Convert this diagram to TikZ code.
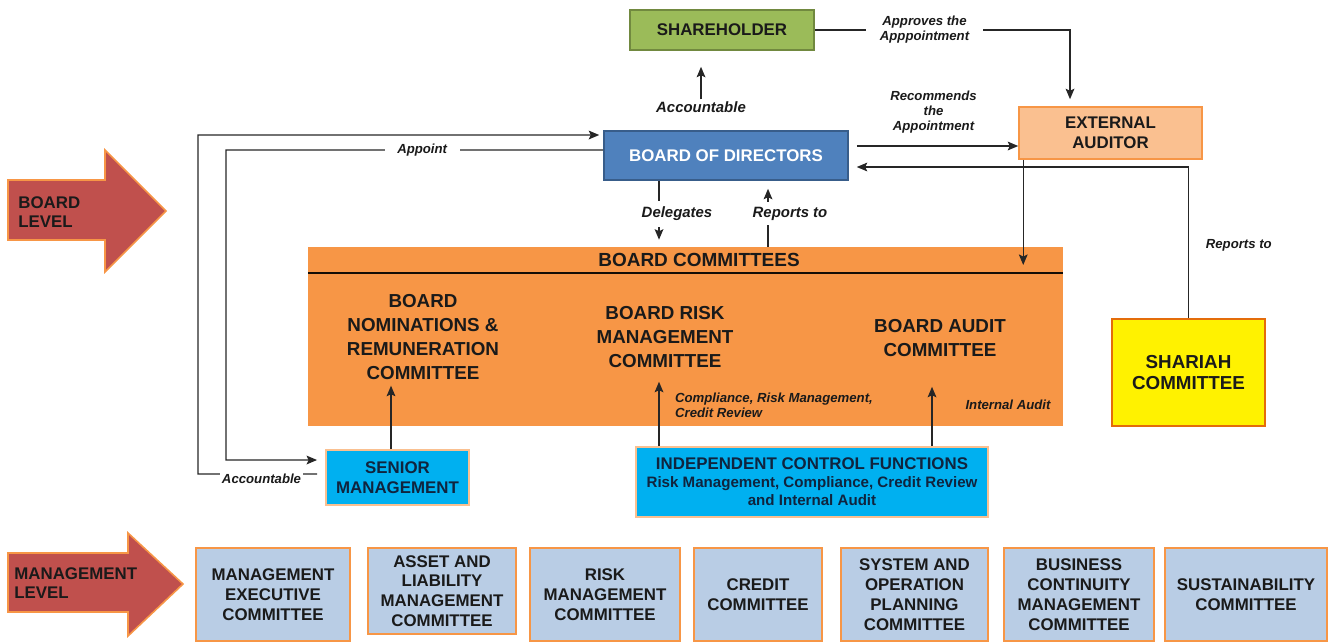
\documentclass[tikz,border=0pt]{standalone}
\usepackage{fontspec}
\setmainfont{Liberation Sans}
\usetikzlibrary{positioning,arrows.meta}

\definecolor{shgreen}{HTML}{9BBB59}
\definecolor{shgreenD}{HTML}{71893F}
\definecolor{bodblue}{HTML}{4F81BD}
\definecolor{bodblueD}{HTML}{385D8A}
\definecolor{lightorange}{HTML}{FAC090}
\definecolor{midorange}{HTML}{F79646}
\definecolor{darkorange}{HTML}{E46C0A}
\definecolor{icfcyan}{HTML}{00B0F0}
\definecolor{mgmtblue}{HTML}{B9CDE5}
\definecolor{levelred}{HTML}{C0504D}
\definecolor{txtdark}{HTML}{1A1A1A}
\definecolor{txtnavy}{HTML}{10243E}

\tikzset{
  box/.style={draw, line width=0.9pt, align=center, inner sep=1pt, text=txtdark,
    font=\bfseries\fontsize{9.6}{11.3}\selectfont},
  mgmt/.style={box, fill=mgmtblue, draw=midorange, line width=1.1pt,
    minimum height=1.86cm},
  comtext/.style={align=center, text=txtdark, font=\bfseries\fontsize{10.7}{13.6}\selectfont},
  lblbig/.style={text=txtdark, inner sep=1pt, font=\bfseries\itshape\fontsize{8.5}{9.5}\selectfont},
  lblsm/.style={text=txtdark, inner sep=1pt, align=center, font=\bfseries\itshape\fontsize{7.5}{8.6}\selectfont},
  conn/.style={draw=black!85, line width=0.7pt, -{Stealth[length=6pt,width=5pt,inset=1.2pt]}},
  levelarrow/.style={fill=levelred, draw=midorange, line width=0.9pt, line join=miter},
  leveltext/.style={align=left, text=txtdark, inner sep=0pt,
    font=\bfseries\fontsize{9.6}{11}\selectfont}
}

\begin{document}
\begin{tikzpicture}[x=0.02cm, y=-0.02cm]
\useasboundingbox (0,0) rectangle (1334,643);

% level arrows
\draw[levelarrow] (8,180) -- (105,180) -- (105,150) -- (166,211) -- (105,272) -- (105,240) -- (8,240) -- cycle;
\node[leveltext, anchor=west] (blevel) at (18,212) {BOARD\\LEVEL};
\draw[levelarrow] (8,553) -- (128,553) -- (128,533) -- (183,584) -- (128,636) -- (128,612) -- (8,612) -- cycle;
\node[leveltext, anchor=west] (mlevel) at (14,583) {MANAGEMENT\\LEVEL};

% board level
\node[box, fill=shgreen, draw=shgreenD, minimum width=3.68cm, minimum height=0.80cm] (sh) at (722,30) {SHAREHOLDER};
\node[box, fill=bodblue, draw=bodblueD, text=white, minimum width=4.88cm, minimum height=0.98cm] (bod) at (726,155.5) {BOARD OF DIRECTORS};
\node[box, fill=lightorange, draw=midorange, minimum width=3.66cm, minimum height=1.04cm] (ea) at (1110.5,133) {EXTERNAL\\AUDITOR};
\node[box, fill=yellow, draw=darkorange, line width=1.4pt, minimum width=3.06cm, minimum height=2.14cm,
  font=\bfseries\fontsize{10.7}{12.5}\selectfont] (shariah) at (1188.5,372.5) {SHARIAH\\COMMITTEE};

% board committees
\node[fill=midorange, minimum width=15.10cm, minimum height=3.58cm, inner sep=0pt] (bc) at (685.5,336.5) {};
\coordinate (hdr) at (308,273);
\draw[line width=1.4pt, draw=black!90!brown] (hdr) -- (hdr -| bc.east);
\node[comtext, font=\bfseries\fontsize{10.8}{12}\selectfont] (bchead) at (699,260) {BOARD COMMITTEES};
\node[comtext] (nom) at (423,337) {BOARD\\NOMINATIONS \&\\REMUNERATION\\COMMITTEE};
\node[comtext] (risk) at (665,337) {BOARD RISK\\MANAGEMENT\\COMMITTEE};
\node[comtext] (audit) at (940,338) {BOARD AUDIT\\COMMITTEE};
\node[lblsm, align=left, anchor=west] (crlbl) at (673,405) {Compliance, Risk Management,\\Credit Review};
\node[lblsm] (ialbl) at (1008,405) {Internal Audit};

% control functions
\node[box, fill=icfcyan, draw=lightorange, line width=1.1pt, text=txtnavy, minimum width=2.86cm, minimum height=1.10cm] (sm) at (397.5,477.5) {SENIOR\\MANAGEMENT};
\node[box, fill=icfcyan, draw=lightorange, line width=1.1pt, text=txtnavy, minimum width=7.04cm, minimum height=1.40cm,
  font=\bfseries\fontsize{8.6}{10.2}\selectfont] (icf) at (812,482)
  {{\fontsize{9.6}{10.2}\selectfont INDEPENDENT CONTROL FUNCTIONS}\\Risk Management, Compliance, Credit Review\\and Internal Audit};

% management level
\node[mgmt, minimum width=3.08cm] (mec) at (273,594.5) {MANAGEMENT\\EXECUTIVE\\COMMITTEE};
\node[mgmt, minimum width=2.96cm, minimum height=1.72cm] (alm) at (442,591) {ASSET AND\\LIABILITY\\MANAGEMENT\\COMMITTEE};
\node[mgmt, minimum width=3.00cm] (rmc) at (605,594.5) {RISK\\MANAGEMENT\\COMMITTEE};
\node[mgmt, minimum width=2.56cm] (cred) at (758,594.5) {CREDIT\\COMMITTEE};
\node[mgmt, minimum width=2.94cm] (sop) at (914.5,594.5) {SYSTEM AND\\OPERATION\\PLANNING\\COMMITTEE};
\node[mgmt, minimum width=3.00cm] (bcm) at (1079,594.5) {BUSINESS\\CONTINUITY\\MANAGEMENT\\COMMITTEE};
\node[mgmt, minimum width=3.24cm] (sus) at (1246,594.5) {SUSTAINABILITY\\COMMITTEE};

% Connect nodes
\node[lblbig] (acc) at (701,107) {Accountable};
\draw[conn, shorten >=0.32cm] (acc.north) -- (acc.north |- sh.south);

\coordinate (apR) at (1070,30);
\draw[conn, shorten >=0.14cm] (sh.east) -- node[lblsm, fill=white, pos=0.43, inner xsep=0.28cm] {Approves the\\Apppointment} (apR) -- (ea.north -| apR);

\draw[conn, shorten <=0.16cm] ([yshift=0.19cm]bod.east) -- node[lblsm, above=0.2cm] {Recommends\\the\\Appointment} ([yshift=0.19cm]bod.east -| ea.west);

\draw[conn, shorten >=0.16cm] (shariah.north) |- node[lblsm, pos=0.24, right=0.3cm] {Reports to} ([yshift=-0.23cm]bod.east);

\draw[conn, shorten >=0.16cm] ([xshift=0.1cm]ea.south west) -- ([xshift=0.1cm]ea.south west |- hdr);

\draw[conn, shorten >=0.14cm] (bod.south -| 659,0) -- node[lblbig, fill=white, xshift=0.36cm, inner ysep=0.12cm] {Delegates} (bc.north -| 659,0);
\draw[conn, shorten >=0.16cm] (bc.north -| 768,0) -- node[lblbig, fill=white, xshift=0.44cm, inner ysep=0.1cm] {Reports to} (bod.south -| 768,0);

\coordinate (apL) at (226,150);
\draw[conn, shorten >=0.16cm] ([yshift=0.11cm]bod.west) -- node[lblsm, fill=white, pos=0.48, inner xsep=0.25cm] {Appoint} (apL) |- ([yshift=0.35cm]sm.west);

\coordinate (acL) at (198,474);
\draw[conn, shorten <=0.16cm, shorten >=0.08cm] ([yshift=0.07cm]sm.west) -- node[lblsm, fill=white, yshift=-0.1cm] {Accountable} (acL) |- ([yshift=0.41cm]bod.west);

\draw[conn] (sm.north -| 391,0) -- (nom.south -| 391,0);
\draw[conn, shorten >=0.16cm] (icf.north -| 659,0) -- (risk.south -| 659,0);
\draw[conn, shorten >=0.48cm] (icf.north -| 932,0) -- (audit.south -| 932,0);

\end{tikzpicture}
\end{document}
